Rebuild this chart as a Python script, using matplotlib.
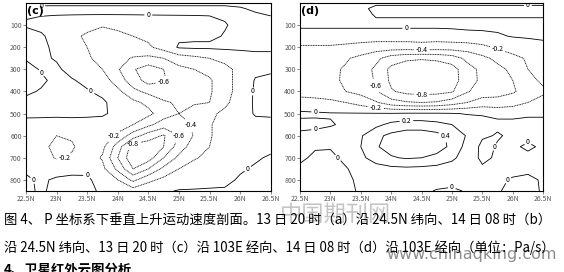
import numpy as np
import matplotlib
matplotlib.use("Agg")
import matplotlib.pyplot as plt

plt.rcParams['font.family'] = ['Noto Sans CJK SC', 'DejaVu Sans']

lats = [22.5, 22.75, 23.0, 23.25, 23.5, 23.75, 24.0, 24.25, 24.5,
        24.75, 25.0, 25.25, 25.5, 25.75, 26.0, 26.25, 26.5]
levs = [0, 25, 50, 100, 150, 200, 250, 300, 350, 400, 450, 500,
        550, 600, 650, 700, 750, 800, 850]
xticks = [22.5, 23, 23.5, 24, 24.5, 25, 25.5, 26, 26.5]
xlabels = ['22.5N', '23N', '23.5N', '24N', '24.5N', '25N', '25.5N', '26N', '26.5N']
yticks = [100, 200, 300, 400, 500, 600, 700, 800]
clevs = [-1.0, -0.8, -0.6, -0.4, -0.2, 0.0, 0.2, 0.4]

# (c) omega, one column per latitude, top (0 hPa) to bottom (850 hPa)
omega_c_cols = [
    [-0.04, 0.04, 0.01, -0.01, 0.04, 0.05, 0.01, -0.04, -0.05, -0.02, 0.03, 0.02, -0.03, -0.06, -0.06, -0.04, -0.02, 0.02, 0.03],
    [-0.04, 0.04, 0.01, -0.04, 0.02, 0.03, 0.02, 0.01, -0.02, 0.01, 0.04, 0.03, -0.05, -0.12, -0.15, -0.10, -0.05, -0.02, -0.02],
    [-0.04, 0.04, 0.01, -0.08, -0.06, -0.03, -0.01, 0.02, 0.03, 0.04, 0.05, 0.03, -0.06, -0.20, -0.25, -0.22, -0.06, 0.02, 0.04],
    [-0.04, 0.04, 0.01, -0.12, -0.17, -0.15, -0.10, -0.04, 0.01, 0.03, 0.05, 0.03, -0.05, -0.18, -0.22, -0.18, -0.04, 0.03, 0.05],
    [-0.04, 0.04, 0.01, -0.16, -0.22, -0.20, -0.18, -0.10, -0.03, 0.01, 0.04, 0.02, -0.04, -0.10, -0.12, -0.10, -0.03, 0.02, 0.03],
    [-0.04, 0.04, 0.01, -0.19, -0.25, -0.22, -0.25, -0.20, -0.10, -0.03, 0.02, 0.01, -0.03, -0.08, -0.15, -0.22, -0.15, -0.05, -0.02],
    [-0.04, 0.04, 0.01, -0.17, -0.23, -0.24, -0.32, -0.38, -0.30, -0.15, -0.05, -0.02, -0.08, -0.25, -0.50, -0.60, -0.45, -0.20, -0.05],
    [-0.04, 0.04, 0.01, -0.14, -0.20, -0.25, -0.42, -0.58, -0.50, -0.35, -0.15, -0.06, -0.20, -0.50, -0.90, -0.95, -0.80, -0.45, -0.10],
    [-0.04, 0.04, 0.01, -0.11, -0.16, -0.23, -0.45, -0.70, -0.68, -0.45, -0.25, -0.15, -0.35, -0.70, -0.92, -0.90, -0.60, -0.25, -0.05],
    [-0.04, 0.04, 0.01, -0.09, -0.10, -0.12, -0.40, -0.60, -0.62, -0.48, -0.38, -0.30, -0.50, -0.82, -0.80, -0.60, -0.35, -0.15, -0.02],
    [-0.04, 0.04, 0.01, -0.08, -0.03, 0.02, -0.30, -0.45, -0.50, -0.46, -0.42, -0.40, -0.55, -0.60, -0.50, -0.35, -0.20, -0.08, 0.01],
    [-0.04, 0.04, 0.01, -0.07, -0.03, 0.03, -0.25, -0.40, -0.45, -0.44, -0.42, -0.32, -0.35, -0.38, -0.30, -0.22, -0.12, -0.05, 0.01],
    [-0.04, 0.04, 0.01, -0.05, -0.03, 0.03, -0.20, -0.35, -0.42, -0.42, -0.40, -0.25, -0.22, -0.22, -0.20, -0.15, -0.08, -0.03, 0.01],
    [-0.04, 0.04, 0.02, -0.01, 0.01, 0.03, -0.12, -0.28, -0.30, -0.30, -0.25, -0.15, -0.10, -0.10, -0.12, -0.10, -0.05, -0.02, 0.01],
    [-0.03, 0.01, 0.03, 0.04, 0.05, 0.02, -0.05, -0.12, -0.10, -0.10, -0.08, -0.05, -0.03, -0.04, -0.06, -0.04, -0.01, 0.01, 0.02],
    [-0.03, -0.02, 0.01, 0.05, 0.06, 0.02, -0.03, -0.03, 0.01, 0.02, 0.02, 0.01, -0.03, -0.04, -0.03, -0.01, 0.01, 0.02, 0.03],
    [-0.03, -0.04, -0.01, 0.05, 0.06, 0.02, -0.03, -0.02, 0.03, 0.04, 0.03, 0.01, -0.02, -0.03, -0.02, 0.01, 0.03, 0.04, 0.04],
]

# (d) omega, one row per pressure level, west to east
omega_d = [
    [0.03, 0.03, 0.03, 0.03, 0.03, 0.03, 0.03, 0.03, 0.03, 0.03, 0.03, 0.03, 0.03, 0.03, 0.03, 0.03, 0.03],
    [0.04, 0.04, 0.04, 0.04, 0.04, -0.04, -0.04, -0.04, -0.04, -0.04, -0.04, -0.04, -0.04, -0.04, -0.04, -0.04, -0.04],
    [0.06, 0.06, 0.06, 0.06, 0.06, -0.02, -0.02, -0.02, -0.02, -0.02, -0.02, -0.02, -0.02, -0.02, -0.02, -0.02, -0.02],
    [0.04, 0.04, 0.04, 0.04, 0.04, 0.04, 0.04, 0.04, 0.04, 0.04, 0.04, 0.04, 0.04, 0.04, 0.04, 0.04, 0.04],
    [-0.10, -0.10, -0.10, -0.10, -0.10, -0.10, -0.10, -0.10, -0.10, -0.10, -0.08, -0.05, -0.04, -0.02, 0.01, 0.02, 0.03],
    [-0.22, -0.22, -0.22, -0.24, -0.27, -0.30, -0.30, -0.30, -0.28, -0.30, -0.30, -0.30, -0.25, -0.17, -0.12, -0.08, -0.05],
    [-0.28, -0.30, -0.33, -0.38, -0.45, -0.55, -0.70, -0.76, -0.78, -0.76, -0.70, -0.55, -0.45, -0.35, -0.25, -0.18, -0.12],
    [-0.30, -0.32, -0.36, -0.42, -0.50, -0.64, -0.85, -0.93, -0.95, -0.93, -0.88, -0.68, -0.55, -0.45, -0.36, -0.20, -0.10],
    [-0.30, -0.33, -0.37, -0.42, -0.50, -0.62, -0.84, -0.93, -0.96, -0.94, -0.88, -0.70, -0.55, -0.47, -0.40, -0.28, -0.15],
    [-0.28, -0.30, -0.34, -0.40, -0.46, -0.58, -0.78, -0.86, -0.88, -0.87, -0.82, -0.62, -0.50, -0.45, -0.42, -0.33, -0.25],
    [-0.12, -0.13, -0.15, -0.20, -0.28, -0.38, -0.52, -0.58, -0.60, -0.58, -0.50, -0.40, -0.32, -0.35, -0.30, -0.20, -0.10],
    [0.03, 0.02, 0.01, 0.01, 0.01, 0.01, 0.01, 0.02, 0.02, 0.02, 0.01, -0.01, -0.01, -0.02, -0.02, -0.01, -0.01],
    [-0.04, -0.03, -0.01, 0.02, 0.08, 0.15, 0.25, 0.30, 0.30, 0.26, 0.20, 0.10, 0.04, 0.02, 0.02, 0.02, 0.02],
    [0.03, 0.04, 0.05, 0.08, 0.18, 0.35, 0.45, 0.50, 0.50, 0.46, 0.35, 0.18, 0.02, -0.01, 0.02, 0.03, 0.02],
    [0.03, 0.01, 0.01, 0.06, 0.20, 0.38, 0.48, 0.52, 0.52, 0.48, 0.36, 0.12, -0.04, 0.01, 0.02, -0.02, 0.02],
    [0.02, -0.02, -0.03, 0.03, 0.15, 0.30, 0.38, 0.42, 0.40, 0.35, 0.25, 0.08, -0.03, 0.02, 0.03, 0.03, 0.03],
    [-0.02, -0.05, -0.04, -0.01, 0.05, 0.11, 0.15, 0.16, 0.15, 0.13, 0.09, 0.04, 0.02, 0.03, 0.03, 0.02, 0.02],
    [-0.05, -0.05, -0.04, -0.02, 0.02, 0.06, 0.08, 0.08, 0.08, 0.06, 0.04, 0.02, 0.02, 0.02, -0.01, -0.02, 0.01],
    [-0.05, -0.05, -0.04, -0.02, 0.01, 0.04, 0.05, 0.05, 0.03, -0.01, -0.02, 0.01, 0.02, 0.01, -0.03, -0.03, 0.01],
]

line1 = '图 4、 P 坐标系下垂直上升运动速度剖面。13 日 20 时（a）沿 24.5N 纬向、14 日 08 时（b）'
line2 = '沿 24.5N 纬向、13 日 20 时（c）沿 103E 经向、14 日 08 时（d）沿 103E 经向（单位：Pa/s）'
line3 = '4、卫星红外云图分析'


def fmt(v):
    return '0' if abs(v) < 1e-9 else '%.1f' % v


def panel(ax, data, tag):
    cs = ax.contour(lats, levs, data, levels=clevs, colors='k',
                    linewidths=0.6, negative_linestyles=(0, (1.2, 0.8)))
    labels = ax.clabel(cs, fmt=fmt, fontsize=5, inline=True, inline_spacing=2)
    for t in labels:
        t.set_rotation(0)
    ax.set_xlim(22.5, 26.5)
    ax.set_ylim(850, 0)
    ax.set_xticks(xticks)
    ax.set_xticklabels(xlabels)
    ax.set_yticks(yticks)
    ax.tick_params(labelsize=5, colors='#555555', length=2, width=0.5, pad=1)
    for s in ax.spines.values():
        s.set_linewidth(0.8)
    ax.text(0.005, 0.985, tag, transform=ax.transAxes, fontsize=8,
            fontweight='bold', va='top', ha='left', family='DejaVu Sans',
            bbox=dict(facecolor='white', edgecolor='none', pad=0.3))


fig = plt.figure(figsize=(5.64, 2.72), dpi=100)
ax1 = fig.add_axes([0.046, 0.298, 0.434, 0.691])
ax2 = fig.add_axes([0.532, 0.298, 0.431, 0.691])

panel(ax1, np.array(omega_c_cols).T, '(c)')
panel(ax2, np.array(omega_d), '(d)')

# watermark
fig.text(335 / 564, 1 - 214 / 272, '中国期刊网', fontsize=16, color='#c4c4c4',
         ha='center', va='center')
fig.text(472 / 564, 1 - 254 / 272, 'www.chinaqking.com', fontsize=11.5,
         color='#8c8c8c', ha='center', va='center', family='DejaVu Sans')

fig.text(0.007, 1 - 220 / 272, line1, fontsize=9.6, va='center', ha='left')
fig.text(0.007, 1 - 248 / 272, line2, fontsize=9.55, va='center', ha='left')
fig.text(0.007, 1 - 263 / 272, line3, fontsize=9.6, va='top', ha='left',
         fontweight='bold')

fig.savefig('out.png', dpi=100)
